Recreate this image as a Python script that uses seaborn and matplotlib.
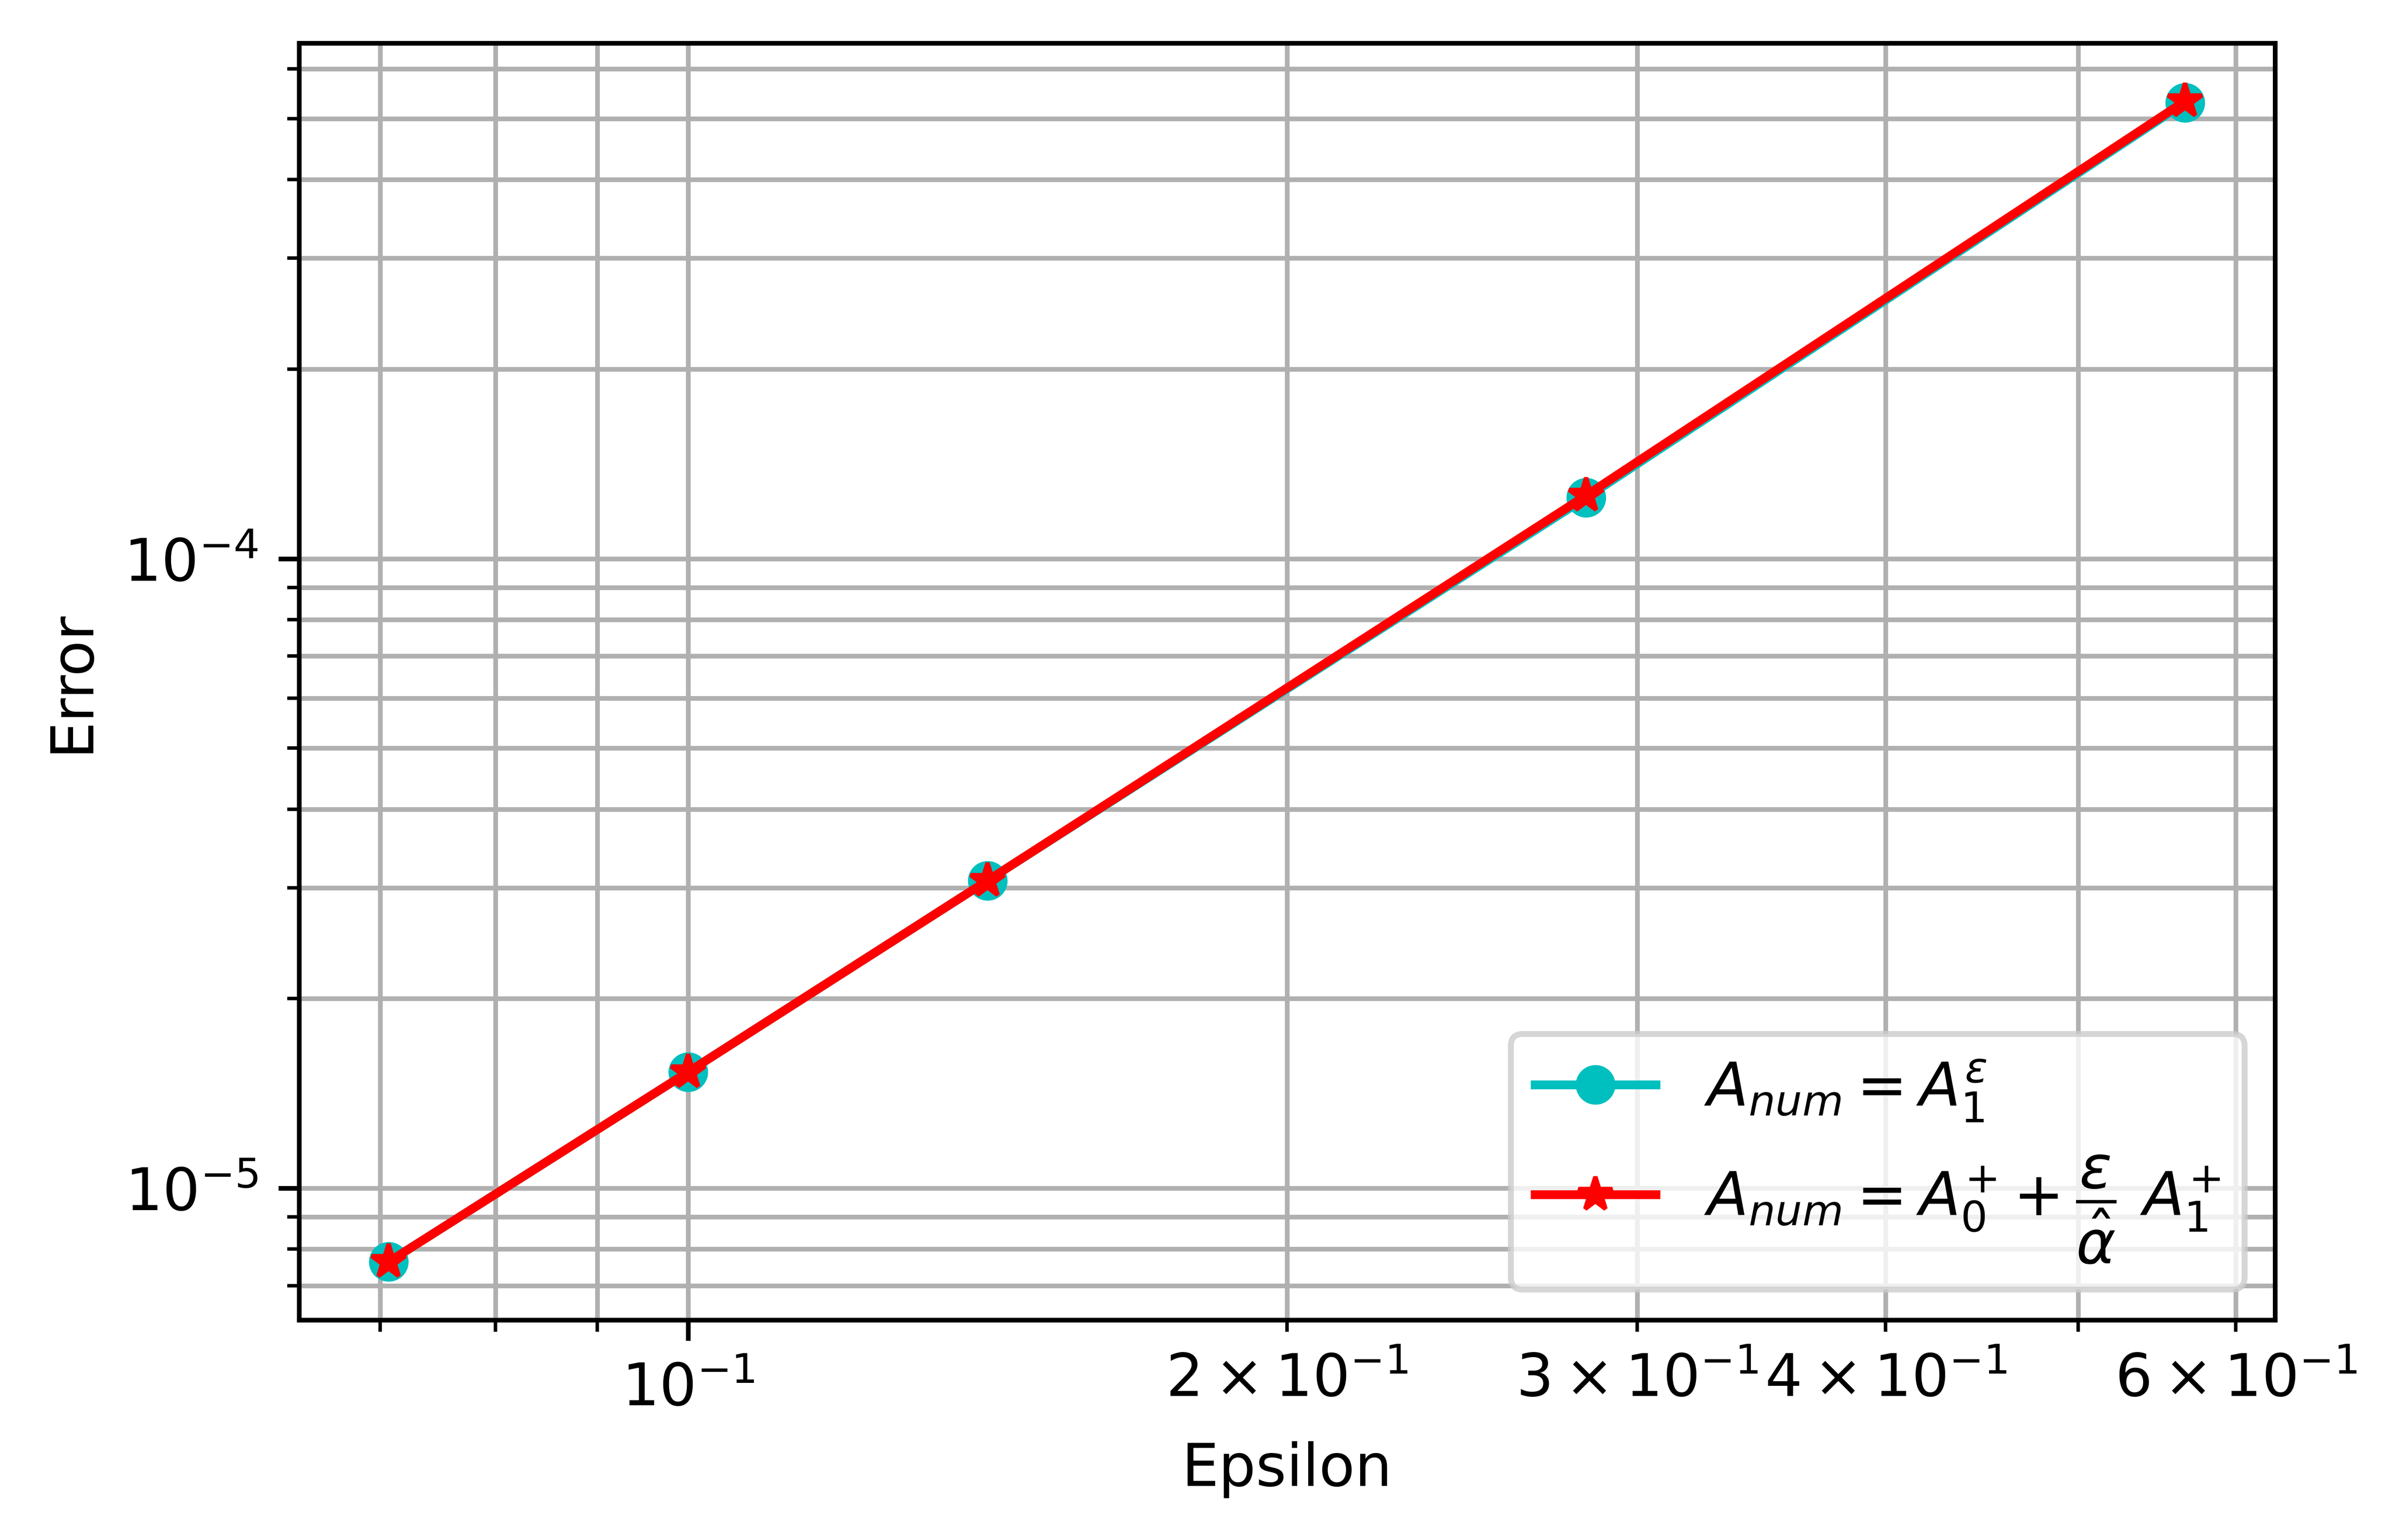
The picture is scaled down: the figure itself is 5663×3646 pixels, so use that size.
import matplotlib
matplotlib.use("Agg")
import matplotlib.pyplot as plt
import seaborn as sns
import numpy as np

epsilon = [0.0707, 0.1, 0.1414, 0.2828, 0.5657]
err_a1 = [7.64e-6, 1.53e-5, 3.08e-5, 1.25e-4, 5.3e-4]
err_a0a1 = [7.64e-6, 1.53e-5, 3.08e-5, 1.26e-4, 5.33e-4]

fig = plt.figure(figsize=(5.663, 3.646), dpi=1000)
ax = fig.add_axes([0.125, 0.143, 0.826, 0.829])
sns.lineplot(x=epsilon, y=err_a1, ax=ax, color='c', marker='o', markersize=6,
             markeredgecolor='c', label=r'$A_{num} = A_1^{\varepsilon}$')
sns.lineplot(x=epsilon, y=err_a0a1, ax=ax, color='r', marker='*', markersize=6,
             markeredgecolor='r', label=r'$A_{num} = A_0^{+} + \dfrac{\varepsilon}{\hat{\alpha}}\ A_1^{+}$')
ax.set_xscale('log')
ax.set_yscale('log')
ax.grid(True, which='both', color='#b0b0b0', linewidth=0.8)
ax.set_xlabel('Epsilon')
ax.set_ylabel('Error')
ax.legend(loc='lower right', fontsize=10.3)
fig.savefig('out.png', dpi=1000)
